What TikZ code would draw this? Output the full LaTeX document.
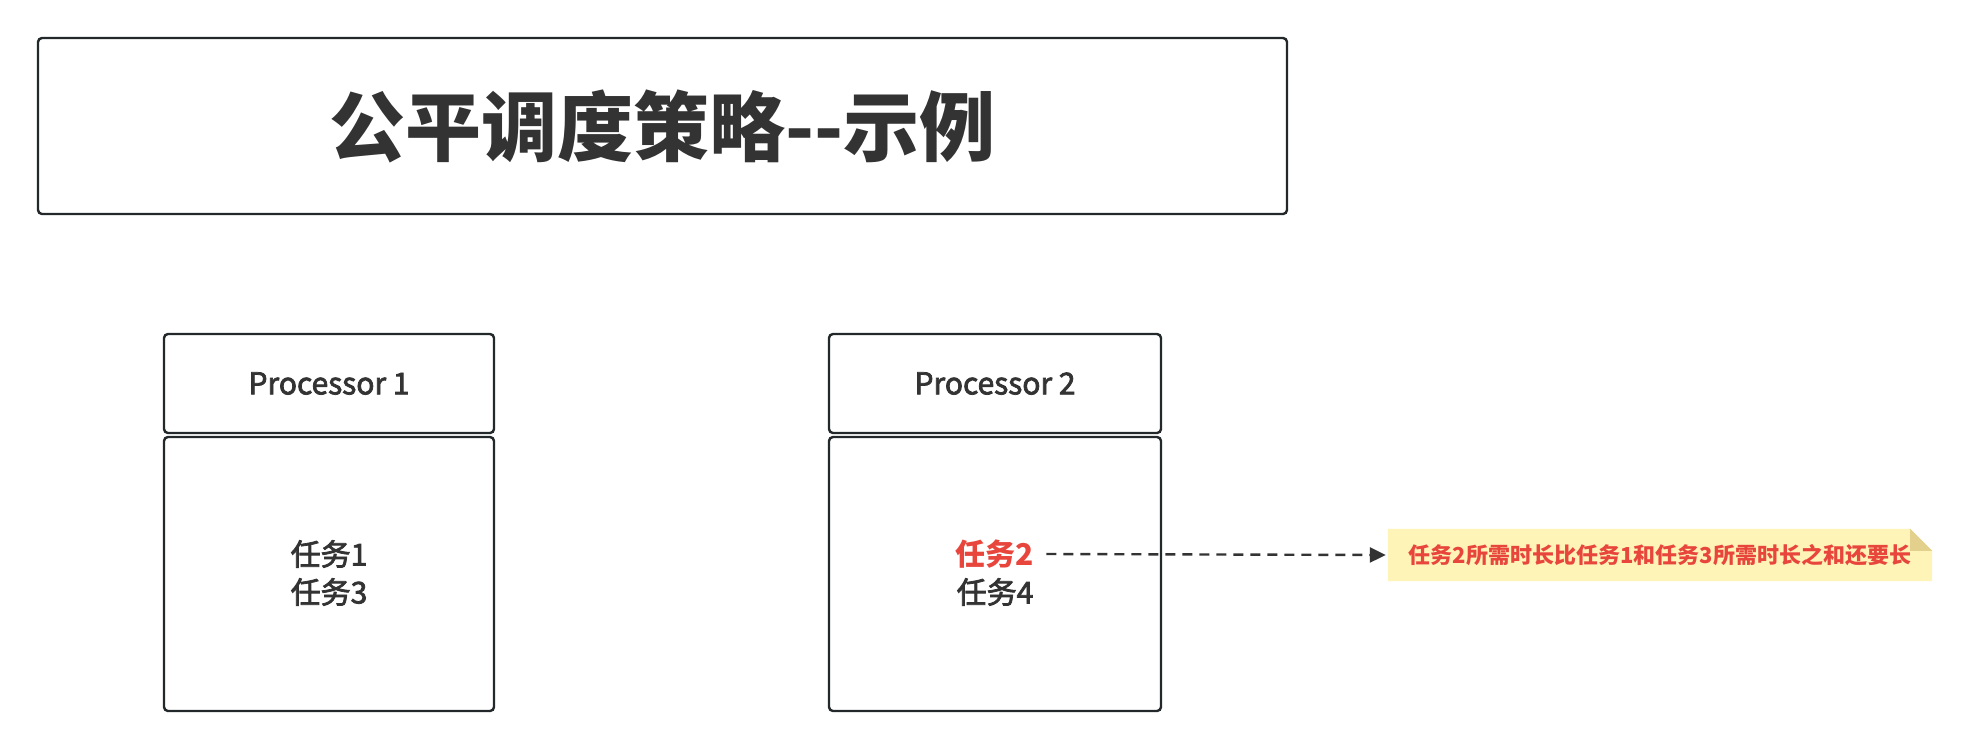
\documentclass[tikz,border=0pt]{standalone}
\usepackage{fontspec}
\setmainfont{Noto Sans CJK SC}
\newfontfamily\medfont[FakeBold=2.5]{Noto Sans CJK SC}
\usetikzlibrary{arrows.meta,backgrounds}
\definecolor{ink}{HTML}{333333}
\definecolor{edge}{HTML}{23282B}
\definecolor{redtxt}{HTML}{E8453C}
\definecolor{notefill}{HTML}{FFF4B8}
\definecolor{notefold}{HTML}{E2D08C}
\begin{document}
\begin{tikzpicture}[x=1pt,y=-1pt,
  box/.style={draw=edge,line width=2.4pt,rounded corners=4pt,inner sep=0pt,fill=white},
  proc/.style={box,minimum width=330pt,font=\medfont\fontsize{30}{36}\selectfont,text=ink},
  task/.style={inner sep=0pt,font=\medfont\fontsize{30}{36}\selectfont,text=ink},
  conn/.style={draw=ink,line width=2.4pt,dash pattern=on 10pt off 7pt,-{Triangle[length=16pt,width=15pt]}}]
\useasboundingbox (0,0) rectangle (1971,748);
% title
\node[box,minimum width=1249pt,minimum height=176pt,font=\fontsize{76}{90}\selectfont\bfseries,text=ink] (title) at (662.5,126) {公平调度策略-{}-示例};
% processor 1
\node[proc,minimum height=99pt] (p1h) at (329,383.5) {Processor 1};
\node[proc,minimum height=274pt] (p1b) at (329,574) {};
\node[task] (t1) at (329,554) {任务1};
\node[task] (t3) at (329,592) {任务3};
% processor 2
\node[proc,minimum width=332pt,minimum height=99pt] (p2h) at (995,383.5) {Processor 2};
\node[proc,minimum width=332pt,minimum height=274pt] (p2b) at (995,574) {};
\node[task,text=redtxt,font=\fontsize{30}{36}\selectfont\bfseries] (t2) at (995,554) {任务2};
\node[task] (t4) at (995,592) {任务4};
% note
\node[inner sep=0pt,minimum width=544pt,minimum height=52pt,text=redtxt,font=\fontsize{22}{26}\selectfont\bfseries] (note) at (1660,555) {任务2所需时长比任务1和任务3所需时长之和还要长};
\begin{scope}[on background layer]
\fill[white] (0,0) rectangle (1971,748);
\fill[notefill] (note.south west) -- (note.north west) -- ([xshift=-22pt]note.north east) -- ([yshift=-22pt]note.north east) -- (note.south east) -- cycle;
\fill[notefold] ([xshift=-22pt]note.north east) -- ([yshift=-22pt]note.north east) -- ([xshift=-22pt,yshift=-22pt]note.north east) -- cycle;
\end{scope}
\draw[conn] ([xshift=12pt]t2.east) -- ([xshift=-2pt]note.west);
\end{tikzpicture}
\end{document}
